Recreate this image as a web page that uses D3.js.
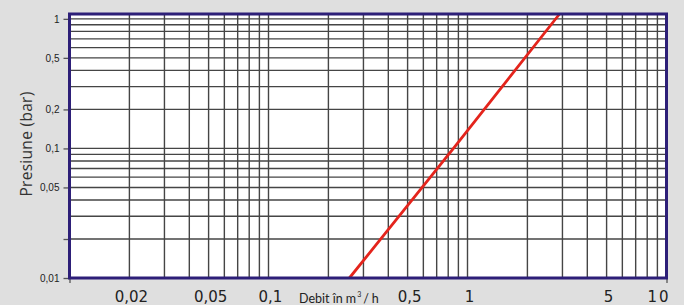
<!DOCTYPE html>
<html lang="ro">
  <head>
    <meta charset="utf-8">
    <title>presiune debit</title>
    <script src="https://cdn.jsdelivr.net/npm/d3@7"></script>
    <style type="text/css">
      body { margin: 0; background: #dfdfdf; }
      .grid line { stroke: #454545; stroke-width: 1.4; }
      .frame { fill: none; stroke: #2d1f78; stroke-width: 3; }
      .yTick { font-family: "Liberation Sans", Arial, sans-serif; font-size: 10px; fill: #222; }
      .xTick { font-family: "DejaVu Sans", sans-serif; font-size: 15px; fill: #222; }
      .yTitle { font-family: "Open Sans", sans-serif; font-size: 15.5px; fill: #333; letter-spacing: 0.3px; }
      .xTitle { font-family: Lato, sans-serif; font-size: 12.5px; fill: #222; }
      .curve { fill: none; stroke: #e4241c; stroke-width: 2.8; }
    </style>
  </head>
  <body>
    <svg id="chart" width="684" height="305"></svg>
    <script type="text/javascript">
      // debit (m3/h) and pressure loss (bar)
      var flow = [0.255, 0.85, 2.9];
      var pressure = [0.01, 0.1, 1.09];

      var xTickValues = [0.02, 0.05, 0.1, 0.5, 1, 5, 10];
      var xTickLabels = ["0,02", "0,05", "0,1", "0,5", "1", "5", "10"];
      var yTickValues = [1, 0.5, 0.2, 0.1, 0.05, 0.02, 0.01];
      var yTickLabels = ["1", "0,5", "0,2", "0,1", "0,05", "", "0,01"];

      var svg = d3.select("#chart"),
        pLeft = 69.5, pRight = 666.5, pTop = 14, pBottom = 278;

      var x = d3.scaleLog().domain([0.01, 10]).range([pLeft, pRight]);
      var y = d3.scaleLog().domain([0.01, 1.09]).range([pBottom, pTop]);

      svg.append("rect")
        .attr("width", 684).attr("height", 305)
        .attr("fill", "#dfdfdf");

      svg.append("rect")
        .attr("x", pLeft).attr("y", pTop)
        .attr("width", pRight - pLeft).attr("height", pBottom - pTop)
        .attr("fill", "#ffffff");

      //1..9 in every decade for the grid
      var xGrid = [], yGrid = [];
      [0.01, 0.1, 1].forEach(function(d) {
        for (var k = 1; k < 10; k++) { xGrid.push(d * k); }
      });
      [0.01, 0.1].forEach(function(d) {
        for (var k = 1; k < 10; k++) { yGrid.push(d * k); }
      });
      yGrid.push(1);

      var grid = svg.append("g").attr("class", "grid");
      grid.selectAll(".vline")
        .data(xGrid)
        .enter().append("line")
          .attr("x1", function(d) { return x(d); })
          .attr("x2", function(d) { return x(d); })
          .attr("y1", pTop).attr("y2", pBottom);
      grid.selectAll(".hline")
        .data(yGrid)
        .enter().append("line")
          .attr("x1", pLeft).attr("x2", pRight)
          .attr("y1", function(d) { return y(d); })
          .attr("y2", function(d) { return y(d); });

      // the curve
      var line = d3.line()
        .x(function(d, i) { return x(flow[i]); })
        .y(function(d) { return y(d); });
      svg.append("path")
        .datum(pressure)
        .attr("class", "curve")
        .attr("d", line);

      // Y axis
      var yAxis = svg.append("g")
        .attr("transform", "translate(" + pLeft + ",0)")
        .call(d3.axisLeft(y).tickValues(yTickValues).tickSize(6).tickPadding(4)
          .tickFormat(function(d, i) { return yTickLabels[i]; }));
      yAxis.select(".domain").remove();
      yAxis.selectAll(".tick line").attr("stroke", "#555").attr("stroke-width", 1.3);
      yAxis.selectAll(".tick text").attr("class", "yTick").attr("fill", null);
      yAxis.attr("font-family", null).attr("font-size", null);

      // X axis, only the end ticks are drawn
      var xAxis = svg.append("g")
        .attr("transform", "translate(0," + pBottom + ")")
        .call(d3.axisBottom(x).tickValues([0.01, 10]).tickSize(5).tickFormat(""));
      xAxis.select(".domain").remove();
      xAxis.selectAll(".tick line").attr("stroke", "#555").attr("stroke-width", 1.3);

      svg.selectAll(".xTick")
        .data(xTickValues)
        .enter().append("text")
          .attr("class", "xTick")
          .attr("x", function(d, i) { return i == xTickValues.length - 1 ? x(d) + 4 : x(d) + 2; })
          .attr("y", 302)
          .attr("text-anchor", function(d, i) { return i == xTickValues.length - 1 ? "end" : "middle"; })
          .style("letter-spacing", function(d, i) { return i == xTickValues.length - 1 ? "2px" : null; })
          .text(function(d, i) { return xTickLabels[i]; });

      var xTitle = svg.append("text")
        .attr("class", "xTitle")
        .attr("x", 299)
        .attr("y", 303);
      xTitle.append("tspan").text("Debit în m");
      xTitle.append("tspan").attr("dy", -6).attr("dx", 1).style("font-size", "7px").text("3");
      xTitle.append("tspan").attr("dy", 6).attr("dx", 2).style("letter-spacing", "3px").text("/h");

      svg.append("text")
        .attr("class", "yTitle")
        .attr("transform", "translate(32,144) rotate(-90)")
        .attr("text-anchor", "middle")
        .text("Presiune (bar)");

      svg.append("rect")
        .attr("class", "frame")
        .attr("x", pLeft).attr("y", pTop)
        .attr("width", pRight - pLeft).attr("height", pBottom - pTop);
    </script>
  </body>
</html>
